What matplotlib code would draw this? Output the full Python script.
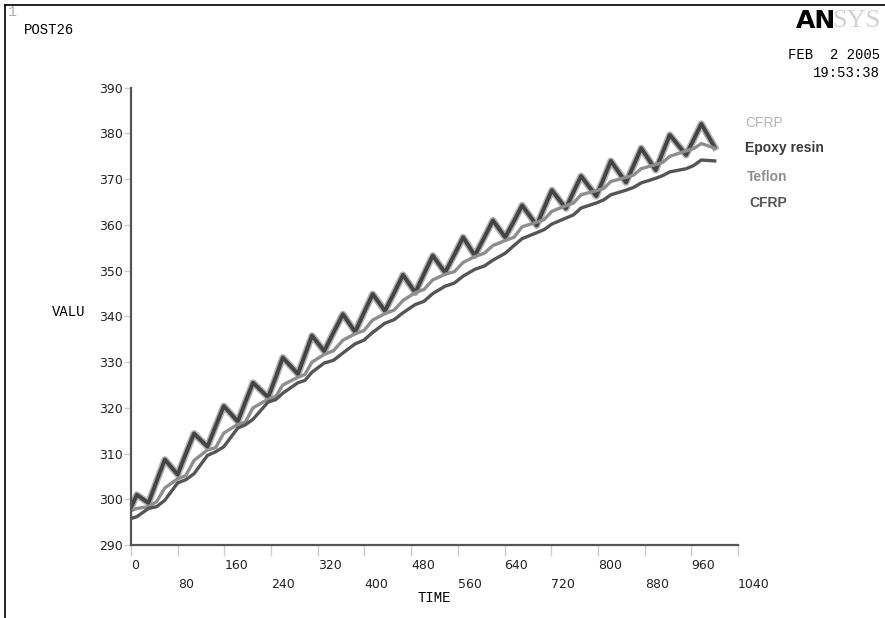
import matplotlib
matplotlib.use("Agg")
import matplotlib.pyplot as plt
from matplotlib.lines import Line2D

# key times (peaks, troughs and mid-rise points of the top curve)
t_key = [0, 10, 30, 44, 58, 80, 94, 108, 131, 145, 159, 183, 196, 209, 235, 248,
         260, 286, 298, 310, 331, 347, 363, 384, 399, 414, 435, 451, 466, 487,
         502, 517, 538, 554, 569, 589, 605, 620, 641, 656, 670, 695, 708, 721,
         745, 758, 771, 797, 810, 822, 848, 861, 874, 899, 911, 923, 951, 964,
         977, 1000]

epoxy = [298.2, 301.0, 299.2, 304.0, 308.7, 305.4, 310.0, 314.4, 311.5, 316.0,
         320.4, 317.0, 321.3, 325.5, 322.3, 326.7, 331.0, 327.4, 331.6, 335.8,
         332.4, 336.5, 340.5, 336.6, 340.8, 344.9, 341.2, 345.2, 349.1, 345.2,
         349.3, 353.3, 349.6, 353.5, 357.3, 353.3, 357.2, 361.0, 357.3, 360.8,
         364.3, 359.9, 363.8, 367.6, 363.6, 367.2, 370.7, 366.3, 370.2, 374.0,
         369.3, 373.0, 376.8, 372.0, 375.9, 379.7, 375.3, 378.7, 382.1, 377.0]

# light CFRP curve lies under the epoxy curve
cfrp_top = epoxy

teflon = [297.5, 298.0, 298.4, 299.5, 302.5, 304.5, 305.2, 308.5, 310.8, 311.3,
          314.5, 316.4, 316.9, 320.0, 321.9, 322.5, 325.0, 326.7, 327.3, 330.0,
          331.7, 332.5, 334.8, 336.2, 336.9, 339.2, 340.6, 341.4, 343.5, 345.2,
          345.9, 348.0, 349.2, 349.8, 351.8, 353.1, 353.8, 355.5, 356.6, 357.3,
          359.6, 360.6, 361.2, 363.0, 364.2, 364.8, 366.6, 367.5, 368.0, 369.5,
          370.4, 370.9, 372.3, 373.2, 373.7, 375.0, 376.2, 376.7, 377.8, 376.8]

cfrp_low = [295.8, 296.2, 298.0, 298.4, 299.8, 303.6, 304.3, 305.6, 309.6, 310.4,
            311.5, 315.6, 316.3, 317.5, 321.3, 321.8, 323.2, 325.5, 326.0, 327.8,
            329.8, 330.4, 332.0, 334.0, 334.8, 336.5, 338.5, 339.3, 340.8, 342.6,
            343.3, 345.0, 346.6, 347.3, 348.8, 350.3, 351.0, 352.3, 353.8, 355.5,
            357.0, 358.3, 359.0, 360.2, 361.5, 362.2, 363.7, 364.8, 365.5, 366.6,
            367.6, 368.2, 369.2, 370.2, 370.8, 371.6, 372.3, 373.0, 374.2, 374.0]

x_ticks = list(range(0, 1041, 80))
y_ticks = list(range(290, 391, 10))

legend_names = ["CFRP", "Epoxy resin", "Teflon", "CFRP"]
legend_colors = ["#b4b4b4", "#3a3a3a", "#8e8e8e", "#555555"]

fig = plt.figure(figsize=(8.85, 6.18), dpi=100)
ax = fig.add_axes([0.148, 0.118, 0.686, 0.740])

ax.plot(t_key, cfrp_top, color="#b0b0b0", lw=5.0, solid_joinstyle="round")
ax.plot(t_key, epoxy, color="#444444", lw=2.8, solid_joinstyle="round")
ax.plot(t_key, teflon, color="#8e8e8e", lw=2.4, solid_joinstyle="round")
ax.plot(t_key, cfrp_low, color="#555555", lw=2.4, solid_joinstyle="round")

ax.set_xlim(0, 1040)
ax.set_ylim(290, 390)
for s in ["top", "right"]:
    ax.spines[s].set_visible(False)
for s in ["left", "bottom"]:
    ax.spines[s].set_color("#555555")
    ax.spines[s].set_linewidth(1.6)

ax.set_xticks(x_ticks)
ax.set_xticklabels([str(v) if i % 2 == 0 else "\n" + str(v) for i, v in enumerate(x_ticks)],
                   fontsize=9, color="#222222", linespacing=1.6)
for lab in ax.get_xticklabels():
    lab.set_ha("left")
ax.tick_params(axis="x", length=8, color="#cccccc", width=1, pad=2)

ax.set_yticks(y_ticks)
ax.set_yticklabels([str(v) for v in y_ticks], fontsize=9, color="#222222")
ax.tick_params(axis="y", length=5, color="#cccccc", width=1, pad=1)

mono = "Liberation Mono"
fig.text(24 / 885, 1 - 30 / 618, "POST26", family=mono, fontsize=10, va="center")
fig.text(8 / 885, 1 - 12 / 618, "1", family=mono, fontsize=11, color="#b0b0b0", va="center")
fig.text(52 / 885, 1 - 312 / 618, "VALU", family=mono, fontsize=10, va="center")
fig.text(434 / 885, 1 - 598 / 618, "TIME", family=mono, fontsize=10, va="center", ha="center")
fig.text(880 / 885, 1 - 55 / 618, "FEB  2 2005", family=mono, fontsize=10, va="center", ha="right")
fig.text(880 / 885, 1 - 73 / 618, "19:53:38", family=mono, fontsize=10, va="center", ha="right")

# ANSYS logo
fig.text(796 / 885, 1 - 21 / 618, "AN", family="DejaVu Sans", fontweight="heavy",
         fontsize=18, va="center")
fig.text(832 / 885, 1 - 21 / 618, "SYS", family="Liberation Serif",
         fontsize=19, color="#d0d0d0", va="center")

# legend names
legend_y = [123, 148, 177, 203]
legend_x = [745, 745, 747, 749]
for name, col, yy, xx, i in zip(legend_names, legend_colors, legend_y, legend_x, range(4)):
    fig.text(xx / 885, 1 - yy / 618, name, family="Liberation Sans", fontsize=10,
             fontweight="normal" if i == 0 else "bold", color=col, va="center")

# frame lines on the top and left edge
fig.add_artist(Line2D([5 / 885, 1], [1 - 5 / 618, 1 - 5 / 618], color="black", lw=1.2))
fig.add_artist(Line2D([5 / 885, 5 / 885], [0, 1 - 5 / 618], color="black", lw=1.2))

fig.savefig("out.png", dpi=100)
